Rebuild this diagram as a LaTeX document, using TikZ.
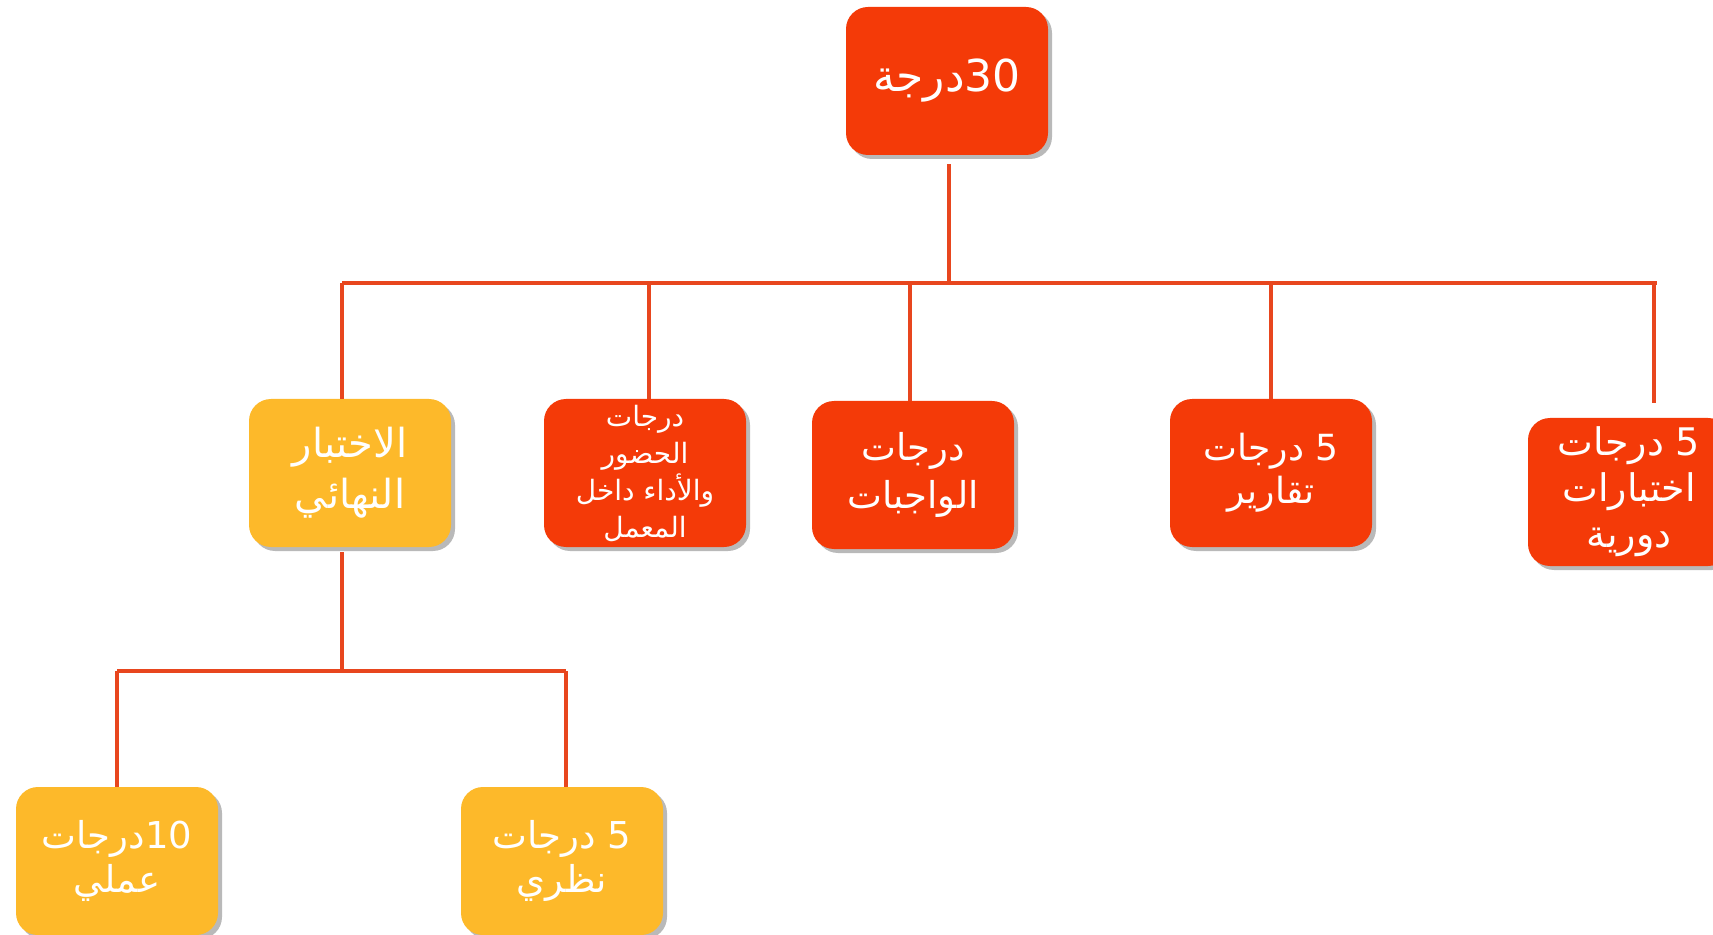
\documentclass[tikz,border=0pt]{standalone}
\usepackage{fontspec}
\newfontfamily\arabicfont[Script=Arabic]{DejaVu Sans}
\TeXXeTstate=1
\usetikzlibrary{shadows}
\definecolor{boxred}{RGB}{244,58,8}
\definecolor{boxyellow}{RGB}{253,185,42}
\definecolor{linkred}{RGB}{232,70,30}
\newcommand{\artext}[1]{\beginR #1\endR}

\begin{document}
\begin{tikzpicture}[x=0.5pt,y=-0.5pt,
    gradebox/.style={rounded corners=11pt, minimum width=101pt, minimum height=74pt, inner sep=0pt, align=center, text=white,
      drop shadow={shadow xshift=2pt, shadow yshift=-2pt, opacity=0.55}},
    redbox/.style={gradebox, fill=boxred},
    yellowbox/.style={gradebox, fill=boxyellow},
    link/.style={linkred, line width=1.6pt}]
        \useasboundingbox (0,0) rectangle (1713,935);

        % Total
        \node[redbox, font=\arabicfont\fontsize{22}{27}\selectfont] (total) at (947,81) {\artext{\beginL30\endL درجة}};

        % Second row
        \node[yellowbox, font=\arabicfont\fontsize{20}{25.5}\selectfont] (final) at (350,473) {\artext{الاختبار}\\\artext{النهائي}};
        \node[redbox, font=\arabicfont\fontsize{14}{18.5}\selectfont] (attend) at (645,473) {\artext{درجات}\\\artext{الحضور}\\\artext{والأداء داخل}\\\artext{المعمل}};
        \node[redbox, font=\arabicfont\fontsize{18.5}{24}\selectfont] (homework) at (913,475) {\artext{درجات}\\\artext{الواجبات}};
        \node[redbox, font=\arabicfont\fontsize{18}{21.5}\selectfont] (reports) at (1271,473) {\artext{\beginL5\endL{} درجات}\\\artext{تقارير}};
        \node[redbox, font=\arabicfont\fontsize{19}{23}\selectfont] (periodic) at (1629,492) {\artext{\beginL5\endL{} درجات}\\\artext{اختبارات}\\\artext{دورية}};

        % Third row
        \node[yellowbox, font=\arabicfont\fontsize{18.5}{22}\selectfont] (practical) at (117,861) {\artext{\beginL10\endL درجات}\\\artext{عملي}};
        \node[yellowbox, font=\arabicfont\fontsize{18.5}{22}\selectfont] (theory) at (562,861) {\artext{\beginL5\endL{} درجات}\\\artext{نظري}};

        % Upper bus
        \coordinate (busL) at (342,283);
        \coordinate (busR) at (1657,283);
        \draw[link] (busL) -- (busR);
        \draw[link, shorten <=4.5pt] ([xshift=1pt]total.south) -- ([xshift=1pt]total.south |- busL);
        \foreach \n/\dx in {final/-4pt, attend/2pt, homework/-1.5pt, reports/0pt}
          \draw[link] ([xshift=\dx]\n.north) -- ([xshift=\dx]\n.north |- busL);
        \draw[link, shorten <=7.5pt] ([xshift=12.5pt]periodic.north) -- ([xshift=12.5pt]periodic.north |- busL);

        % Lower bus
        \coordinate (lowL) at (117,671);
        \coordinate (lowR) at (566,671);
        \draw[link] (lowL) -- (lowR);
        \draw[link, shorten <=2.5pt] ([xshift=-4pt]final.south) -- ([xshift=-4pt]final.south |- lowL);
        \draw[link] (practical.north) -- (practical.north |- lowL);
        \draw[link] ([xshift=2pt]theory.north) -- ([xshift=2pt]theory.north |- lowL);
      \end{tikzpicture}
\end{document}
